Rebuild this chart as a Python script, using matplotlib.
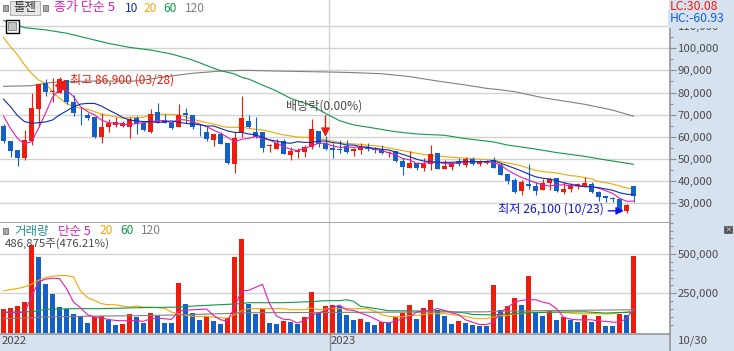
import matplotlib
matplotlib.use('Agg')
import matplotlib.pyplot as plt
from matplotlib.patches import Rectangle
from matplotlib.ticker import FixedLocator, FuncFormatter

plt.rcParams['font.family'] = ['Noto Sans CJK KR', 'DejaVu Sans']

# ---- price data, thousand won ----
opens = [64.9,58.1,54.1,50.6,58.1,72.7,84.2,80.1,79.7,85.7,75.7,70.0,69.7,69.0,59.9,64.5,65.4,65.1,64.6,68.5,66.1,62.2,71.2,67.6,66.7,64.6,70.6,69.9,65.0,62.2,58.6,61.3,57.4,47.9,62.3,
         67.2,62.0,62.0,56.0,54.7,58.0,51.8,53.3,53.3,55.6,62.6,57.1,55.0,54.4,55.7,53.8,54.2,55.1,54.5,54.4,52.6,53.5,49.1,46.0,48.2,45.8,47.7,52.7,45.6,46.6,49.0,47.5,50.0,47.9,48.4,
         49.6,47.5,43.4,40.5,35.7,38.7,37.8,36.0,39.0,41.4,35.0,36.5,37.7,37.5,38.7,35.1,33.2,32.4,32.0,26.7,37.8]
highs = [65.7,58.1,54.1,63.1,80.0,83.9,86.1,86.6,86.9,85.7,78.9,72.9,70.6,69.0,70.6,67.9,68.8,67.3,69.1,69.6,66.9,72.6,75.1,70.3,67.3,74.8,72.9,69.9,65.8,64.9,61.3,62.3,57.4,62.0,78.5,
         69.9,69.0,62.0,56.6,58.9,58.9,55.3,54.8,56.3,68.1,62.6,60.4,57.1,58.6,58.6,54.8,57.1,57.4,55.3,56.3,53.8,53.8,50.3,53.8,48.7,50.3,56.3,52.7,49.6,48.4,50.3,51.1,50.8,49.6,49.6,
         50.8,48.1,43.4,41.3,40.5,47.8,39.8,41.0,41.3,41.4,39.5,39.0,39.3,41.7,39.8,35.7,33.2,33.0,32.0,29.7,37.8]
lows = [57.4,51.1,47.0,49.6,56.3,64.6,78.5,75.9,79.7,74.8,69.6,65.4,67.6,59.5,57.4,62.3,64.3,64.3,59.6,61.3,62.8,61.9,66.1,66.1,63.7,64.3,66.4,63.4,60.5,58.1,56.0,56.9,47.9,43.7,60.1,
        63.9,59.3,53.3,53.3,54.4,52.3,49.6,50.3,51.1,54.4,55.6,54.1,50.6,52.6,52.9,51.4,52.3,53.8,52.6,52.1,51.1,48.8,42.8,45.8,45.0,44.7,45.0,45.6,45.3,45.0,46.9,46.6,47.5,46.9,47.7,
        46.1,42.8,38.7,34.5,33.8,36.5,33.8,36.0,36.0,35.3,34.2,35.3,36.3,37.2,34.5,31.0,30.7,30.4,26.1,25.5,30.7]
closes = [58.1,53.6,50.6,58.6,73.2,83.9,80.4,80.7,86.1,75.9,70.9,69.7,68.5,59.9,64.5,66.3,66.7,66.4,68.1,65.8,63.3,70.3,66.9,66.4,64.0,69.9,69.9,64.6,64.7,59.0,61.3,56.9,48.2,59.5,68.5,
          64.5,60.1,55.1,56.4,57.1,52.3,53.6,54.1,55.3,63.6,56.6,54.7,54.2,54.1,53.3,54.5,55.6,54.5,54.2,52.9,53.3,49.1,46.6,48.2,46.0,47.7,52.3,45.6,47.0,48.0,47.7,50.0,47.9,48.5,49.0,
          46.1,42.8,40.1,35.0,39.6,38.0,35.6,39.0,40.8,35.7,36.5,38.3,38.7,39.0,35.0,32.7,32.4,31.8,27.0,29.1,33.1]

ma5 = [69.4,63.8,59.3,56.8,57.8,63.8,70.6,77.9,81.5,81.2,78.2,73.6,71.4,69.9,67.6,66.4,66.1,65.8,65.4,66.1,66.4,66.9,67.3,67.3,66.4,67.9,67.6,66.9,65.8,64.6,63.1,61.6,59.8,57.8,58.9,
       59.3,60.1,59.3,58.6,57.1,55.6,54.4,53.8,54.8,55.9,57.1,57.1,55.9,55.3,55.3,55.3,55.3,55.3,54.4,53.8,52.9,51.8,50.3,49.6,48.0,48.0,48.5,48.5,48.0,47.7,48.4,48.8,48.8,48.8,48.8,
       48.4,47.3,45.0,43.2,41.7,40.5,39.3,38.3,37.8,38.3,38.3,38.0,37.8,37.8,37.5,36.8,35.7,34.5,32.3,30.9,31.0]
ma10 = [77.0,73.6,69.6,66.9,66.1,66.4,66.7,67.6,69.9,71.7,73.6,74.8,75.1,75.1,73.9,72.1,70.6,68.8,67.6,67.2,66.9,66.9,66.4,66.9,67.2,66.6,66.1,65.8,65.5,64.9,64.9,63.8,62.7,62.0,62.0,
        61.3,60.9,59.8,58.6,58.1,57.4,57.1,57.8,57.5,57.5,58.1,58.1,57.4,57.1,56.3,56.3,55.6,55.3,54.8,54.4,54.1,53.2,52.1,51.1,49.9,49.1,48.8,48.5,48.5,48.5,48.7,48.8,48.8,48.8,48.8,
        49.3,48.1,47.0,45.8,44.6,43.2,42.0,41.3,41.0,40.2,39.3,38.6,38.0,37.5,37.4,37.1,36.5,35.9,34.8,34.1,33.9]
ma20 = [104.9,100.7,97.0,92.5,88.7,85.7,84.2,80.4,77.4,75.1,73.6,72.9,72.4,71.4,70.2,69.7,69.1,68.4,68.7,68.8,68.8,69.9,70.3,70.2,70.2,69.9,69.1,67.9,67.2,66.4,65.8,64.9,64.3,64.3,64.3,
        63.9,63.4,63.1,62.4,61.6,60.9,60.4,59.9,59.8,59.8,59.3,58.6,58.1,57.4,57.1,56.8,56.6,56.3,56.0,55.6,55.0,54.4,53.8,53.2,52.6,52.1,51.5,51.4,51.1,50.8,50.6,50.3,50.1,49.9,49.7,
        49.6,48.8,48.2,47.6,46.9,45.8,44.9,44.3,44.0,43.7,43.1,42.5,42.2,41.6,41.0,39.8,39.3,38.7,37.8,36.9,36.5]
ma60_idx = [0,3,6,9,12,15,18,21,24,27,30,31,33,34,35,37,39,41,44,46,48,50,53,56,59,63,66,69,70,72,76,79,83,86,90]
ma60 = [112.5,109.3,108.3,106.8,104.5,102.2,100.4,99.2,97.4,94.7,91.0,89.9,88.4,86.9,86.1,83.4,80.7,77.4,74.1,70.6,67.3,65.4,63.9,62.3,61.3,60.7,59.2,58.1,57.7,56.3,54.5,52.9,51.2,49.6,47.6]
ma120_idx = [0,4,6,8,13,19,24,27,31,34,35,39,46,50,54,58,62,66,69,70,73,77,80,83,87,90]
ma120 = [82.8,83.1,84.2,84.9,85.2,85.2,87.5,88.7,89.7,90.0,90.0,89.7,89.3,89.0,88.5,87.2,85.2,83.4,81.9,81.6,80.4,77.7,76.2,74.7,72.1,69.3]

# ---- volume data, thousand shares ----
volume = [147.5,153.9,166.7,192.3,557.8,480.8,307.7,243.6,160.3,151.7,115.4,104.7,57.7,98.3,104.7,76.9,44.9,51.3,115.4,96.2,57.7,121.8,104.7,57.7,57.7,314.1,179.5,121.8,76.9,102.6,70.5,51.3,91.9,480.8,596.2,
          179.5,115.4,147.5,57.7,51.3,70.5,64.1,51.3,96.2,256.4,121.8,166.7,173.1,166.7,109.0,76.9,83.3,64.1,44.9,64.1,57.7,96.2,121.8,173.1,83.3,153.9,205.2,141.0,102.6,51.3,70.5,57.7,44.9,38.5,38.5,
          301.3,141.0,166.7,218.0,173.1,359.0,121.8,102.6,134.6,76.9,96.2,76.9,64.1,109.0,64.1,102.6,38.5,38.5,115.4,109.0,486.9]
vol_up = [1,1,1,1,1,0,0,0,0,0,0,0,0,1,1,0,0,1,1,0,0,1,0,0,0,1,0,0,0,1,0,0,1,1,1,
          0,0,1,0,0,1,0,0,1,1,0,1,1,0,0,0,1,0,0,1,0,1,1,1,0,1,1,0,0,0,1,0,0,0,0,
          1,0,1,1,0,1,0,0,1,0,1,0,0,1,0,1,0,0,1,0,1]
vma5 = [130,126,124,130,227,323,340,346,344,280,194,158,113,98,92,83,77,75,75,77,71,88,92,88,83,137,141,145,147,150,109,81,73,162,265,
        269,288,307,184,105,85,81,60,77,109,124,141,158,175,145,141,124,109,88,66,62,71,88,98,130,137,141,152,141,126,115,81,66,51,51,
        66,130,158,194,205,209,209,194,184,152,98,85,81,81,81,73,71,66,66,88,152]
vma20 = [265,274,280,291,308,333,350,359,363,363,355,265,222,205,184,177,177,169,162,169,162,162,158,154,130,120,109,103,103,103,98,94,92,113,139,
         152,152,152,152,152,152,145,145,145,156,145,150,152,152,152,152,152,152,137,115,103,100,100,109,109,115,120,120,120,115,109,103,92,88,88,
         98,107,109,120,120,130,130,130,130,130,126,124,120,120,120,120,118,120,126,130,145]
vma60_idx = [0,4,5,6,10,14,19,25,28,34,35,40,44,46,48,49,50,51,53,55,60,63,66,67,69,70,75,79,83,86,90]
vma60 = [130,132,139,148,152,152,158,162,171,184,190,190,197,203,203,209,199,167,154,139,137,137,124,115,113,113,126,130,132,124,130]
vma120_idx = [0,4,5,11,14,19,24,34,35,69,70,76,90]
vma120 = [88,94,98,103,105,107,111,124,126,132,135,139,145]

price_ticks = [30,40,50,60,70,80,90,100,110]
price_minor = [25,35,45,55,65,75,85,95,105,115]
vol_ticks = [250,500]
vol_minor = [50,100,150,200,300,350,400,450,550,600,650,700]

RED, BLUE = '#ee1c0c', '#1360c8'
C5, C10, C20, C60, C120 = '#e020b0', '#0f2fa8', '#f0a800', '#109848', '#808080'
GRID, AXC, BG, TXT = '#d2d2d2', '#8e8e8e', '#d7e2f0', '#4a4a4a'
W, H = 734, 351
AX_R, MAIN_B, VOL_B = 669.5, 222.5, 333.5

fig = plt.figure(figsize=(W/100, H/100), dpi=100, facecolor=BG)
def rect(l, t, r, b):
    return [l/W, 1-b/H, (r-l)/W, (b-t)/H]
ax = fig.add_axes(rect(0, 0, AX_R, MAIN_B), facecolor='white')
vx = fig.add_axes(rect(0, MAIN_B, AX_R, VOL_B), facecolor='white')
xlim = (-0.5, -0.5 + AX_R/7)
ax.set_xlim(xlim); vx.set_xlim(xlim)
ax.set_ylim(30-19.2/2.215, 30+203.3/2.215)
vx.set_ylim(-1*250*1/39.2, (332.5-MAIN_B)/39.2*250)

x = list(range(len(closes)))
for a in (ax, vx):
    for s in ('top', 'left'):
        a.spines[s].set_visible(False)
    for s in ('right', 'bottom'):
        a.spines[s].set_color(AXC); a.spines[s].set_linewidth(1.1)
    a.set_xticks([])
    a.yaxis.tick_right()
    a.tick_params(axis='y', which='major', length=4.4, width=0.8, color=AXC, pad=1.6, labelsize=8.2, labelcolor=TXT)
    a.tick_params(axis='y', which='minor', length=2.0, width=0.8, color=AXC)
    a.yaxis.grid(True, which='major', color=GRID, lw=1.0)
    a.set_axisbelow(True)
    a.axvline(46.54, color=GRID, lw=1.0, zorder=0.5)

fmt = FuncFormatter(lambda v, p: f'{int(v*1000):,}')
ax.yaxis.set_major_locator(FixedLocator(price_ticks)); ax.yaxis.set_minor_locator(FixedLocator(price_minor))
vx.yaxis.set_major_locator(FixedLocator(vol_ticks)); vx.yaxis.set_minor_locator(FixedLocator(vol_minor))
ax.yaxis.set_major_formatter(fmt); vx.yaxis.set_major_formatter(fmt)
ax.yaxis.set_minor_formatter(FuncFormatter(lambda v, p: ''))
vx.yaxis.set_minor_formatter(FuncFormatter(lambda v, p: ''))

LW = 0.8
# lines below candles
ax.plot(ma120_idx, ma120, color=C120, lw=LW, zorder=2)
ax.plot(ma60_idx, ma60, color=C60, lw=LW, zorder=2)
ax.plot(x, ma20, color=C20, lw=LW, zorder=2)

# candles
cols = []
for i in x:
    up = closes[i] >= opens[i]
    cols.append(RED if up else BLUE)
ax.vlines(x, lows, highs, colors=cols, lw=0.8, zorder=3)
ax.bar(x, [abs(c-o) for c, o in zip(closes, opens)], bottom=[min(c, o) for c, o in zip(closes, opens)],
       width=5/7, color=cols, linewidth=0, zorder=3)
ax.plot(x, ma5, color=C5, lw=LW, zorder=4)
ax.plot(x, ma10, color=C10, lw=LW, zorder=4)

# volume
vx.bar(x, volume, width=5/7, color=[RED if u else BLUE for u in vol_up], linewidth=0, zorder=2)
vx.plot(x, vma5, color=C5, lw=LW, zorder=4)
vx.plot(x, vma20, color=C20, lw=LW, zorder=3)
vx.plot(vma60_idx, vma60, color=C60, lw=LW, zorder=3)
vx.plot(vma120_idx, vma120, color=C120, lw=LW, zorder=3)

def T(px, py, s, color=TXT, size=8.2, ha='left', **kw):
    return fig.text(px/W, 1-py/H, s, color=color, fontsize=size, ha=ha, va='center', zorder=20, **kw)

# annotations on the price panel
ax.plot([8.02], [83.5], marker='<', ms=7, color=RED, zorder=6, clip_on=False)
T(70, 80.5, '최고 86,900 (03/28)', RED, 8.7)
T(286, 106, '배당락(0.00%)', TXT, 8.7)
ax.annotate('', xy=(46, 60.0), xytext=(46, 69.5), zorder=6,
            arrowprops=dict(arrowstyle='-|>', color=RED, lw=1.0, mutation_scale=13, shrinkA=0, shrinkB=0))
T(498, 209, '최저 26,100 (10/23)', '#1414e0', 8.8)
ax.annotate('', xy=(88.6, 26.6), xytext=(86.4, 26.6), zorder=6,
            arrowprops=dict(arrowstyle='-|>', color='#1414e0', lw=1.0, mutation_scale=11, shrinkA=0, shrinkB=0))

# header, price panel
def pr(l, t, w, h, **kw):
    fig.add_artist(Rectangle((l/W, 1-(t+h)/H), w/W, h/H, transform=fig.transFigure, zorder=15, **kw))
pr(3, 5, 5, 6, fc='#a8a8a8', ec='#707070', lw=0.6)
pr(10, 1, 30, 14, fc='#e6e6e6', ec='#b0b0b0', lw=0.8)
T(25, 8, '툴젠', '#303030', 9, ha='center')
pr(43, 5, 5, 6, fc='#a8a8a8', ec='#707070', lw=0.6)
T(54, 8, '종가 단순 5', C5, 9.4)
T(125, 8, '10', C10, 8.6)
T(144, 8, '20', C20, 8.6)
T(163, 8, '60', C60, 8.6)
T(185, 8, '120', C120, 8.6)
pr(5.5, 19.5, 13, 13, fc='white', ec='black', lw=1.0)
pr(8, 22, 8, 8, fc='#c4c4c4', ec='#808080', lw=0.6)
T(670, 7, 'LC:30.08', RED, 8.8).set_bbox(dict(fc=BG, ec='none', pad=0.4))
T(670, 19, 'HC:-60.93', '#1460d0', 8.8).set_bbox(dict(fc=BG, ec='none', pad=1.6))

# header, volume panel
pr(3, 228, 5, 6, fc='#a8a8a8', ec='#707070', lw=0.6)
T(14, 231, '거래량', '#2a9090', 9)
T(58, 231, '단순 5', C5, 9)
T(100, 231, '20', C20, 8.6)
T(120, 231, '60', C60, 8.6)
T(141, 231, '120', C120, 8.6)
T(5, 244, '486,875주(476.21%)', TXT, 8.2)
pr(724, 226, 8, 7, fc='#505050', ec='#505050', lw=0.5)
T(728, 229.3, '×', 'white', 5.5, ha='center')

# date strip
T(2, 341, '2022')
T(331, 341, '2023')
T(678, 341, '10/30')
fig.add_artist(plt.Line2D([329.5/W]*2, [0, 1-VOL_B/H], color=AXC, lw=1.0, zorder=5))
fig.add_artist(plt.Line2D([AX_R/W]*2, [0, 1-VOL_B/H], color=AXC, lw=1.1, zorder=5))

fig.savefig('out.png', dpi=100, facecolor=BG)
